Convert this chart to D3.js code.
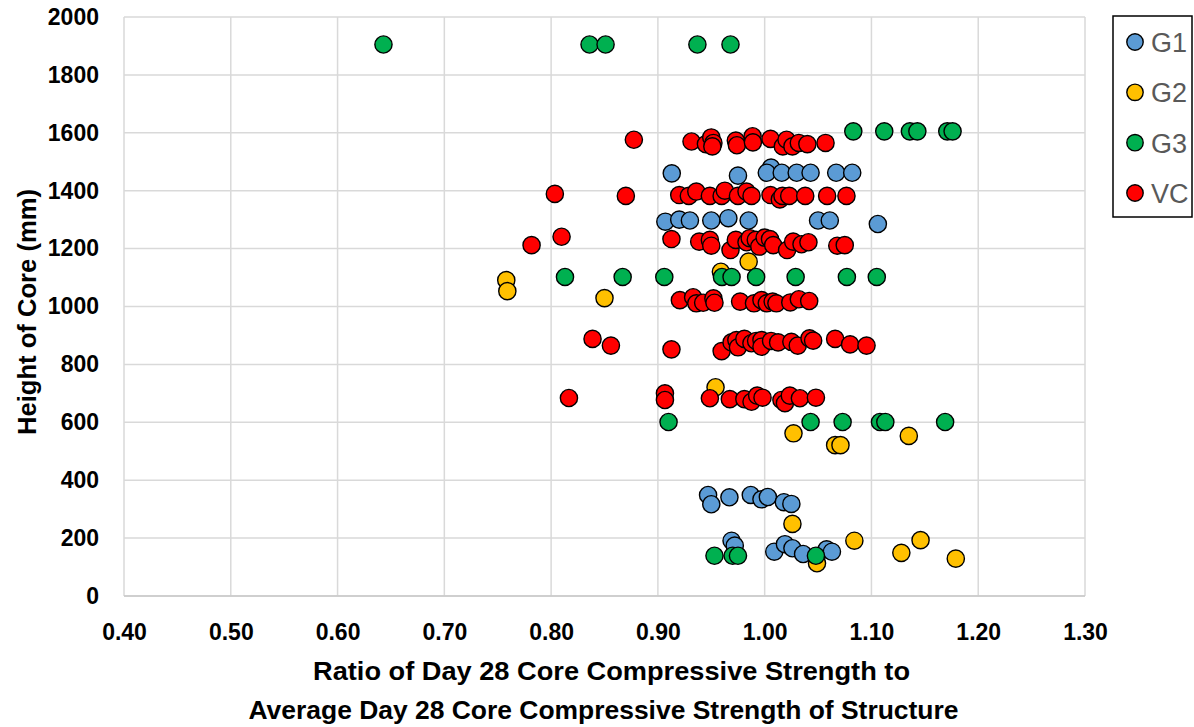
<!DOCTYPE html>
<html>
<head>
<meta charset="utf-8">
<script src="https://cdn.jsdelivr.net/npm/d3@7"></script>
<style>
  html, body { margin: 0; padding: 0; background: #fff; }
  svg { display: block; font-family: "Liberation Sans", Arial, sans-serif; }
</style>
</head>
<body>
<svg id="chart" width="1194" height="727"></svg>
<script>
// Core strength ratio vs. core height, by group: [ratio, height (mm)]
const G1 = [
  [0.913,1460],[0.975,1452],[1.006,1480],[1.002,1462],[1.016,1462],[1.030,1462],[1.043,1462],[1.067,1462],[1.082,1462],
  [0.907,1293],[0.920,1300],[0.930,1297],[0.950,1297],[0.966,1305],[0.985,1297],[1.050,1297],[1.061,1297],[1.106,1285],
  [0.947,349],[0.950,317],[0.967,341],[0.987,349],[0.997,334],[1.003,342],[1.018,324],[1.025,318],
  [0.969,191],[0.972,174],[1.009,153],[1.019,179],[1.026,165],[1.036,145],[1.058,161],[1.063,153]
];
const G2 = [
  [0.758,1091],[0.759,1053],[0.850,1029],[0.985,1155],[0.959,1120],[0.954,721],[1.027,562],
  [1.066,521],[1.071,521],[1.135,553],[1.026,249],[1.084,191],[1.128,149],[1.146,193],[1.179,129],[1.049,113]
];
const G3 = [
  [0.643,1905],[0.836,1905],[0.851,1905],[0.937,1905],[0.968,1905],
  [1.083,1605],[1.112,1605],[1.136,1605],[1.143,1605],[1.171,1605],[1.176,1605],
  [0.813,1102],[0.867,1102],[0.906,1102],[0.960,1102],[0.969,1102],[0.992,1102],[1.029,1102],[1.077,1102],[1.105,1102],
  [0.910,601],[1.043,601],[1.073,601],[1.108,601],[1.113,601],[1.169,601],
  [0.953,139],[0.970,139],[0.975,139],[1.048,139]
];
const VC = [
  // ~1570 mm
  [0.8775,1576],[0.9315,1570],[0.945,1561],[0.950,1584],[0.952,1565],[0.951,1553],[0.973,1573],[0.974,1557],
  [0.9887,1588],[0.989,1567],[1.0055,1579],[1.017,1553],[1.0205,1576],[1.026,1553],[1.032,1565],[1.040,1561],[1.057,1565],
  // ~1380 mm
  [0.8035,1389],[0.870,1382],[0.920,1385],[0.929,1382],[0.936,1397],[0.9487,1382],[0.9597,1382],[0.9627,1400],
  [0.975,1382],[0.983,1397],[0.9877,1382],[1.0055,1385],[1.0142,1370],[1.0167,1382],[1.023,1382],[1.038,1382],
  [1.0585,1382],[1.0766,1382],
  // ~1220 mm
  [0.7817,1212],[0.8098,1241],[0.9127,1233],[0.9387,1224],[0.9487,1230],[0.950,1210],[0.968,1195],[0.973,1230],
  [0.983,1222],[0.986,1236],[0.9917,1230],[0.995,1207],[1.000,1238],[1.005,1233],[1.008,1212],[1.021,1195],
  [1.0267,1224],[1.0345,1215],[1.041,1222],[1.068,1210],[1.075,1212],
  // ~1020 mm
  [0.9206,1022],[0.933,1032],[0.936,1011],[0.9424,1013],[0.952,1028],[0.953,1013],[0.977,1017],[0.990,1011],
  [0.997,1022],[1.002,1011],[1.0075,1017],[1.011,1011],[1.024,1014],[1.032,1025],[1.0417,1019],
  // ~870 mm
  [0.8388,888],[0.856,865],[0.9127,852],[0.9597,846],[0.969,876],[0.9735,884],[0.975,859],[0.981,888],
  [0.9876,873],[0.992,881],[0.997,884],[0.997,861],[1.006,881],[1.0126,876],[1.025,878],[1.031,865],
  [1.042,890],[1.0454,882],[1.066,888],[1.080,869],[1.0954,865],
  // ~680 mm
  [0.8167,684],[0.9066,700],[0.9066,677],[0.9487,683],[0.9674,680],[0.981,680],[0.9877,671],[0.993,692],
  [0.998,685],[1.0157,677],[1.019,666],[1.0236,692],[1.033,683],[1.048,685]
];

const seriesNames = ["G1", "G2", "G3", "VC"];
const seriesData = [G1, G2, G3, VC];
const seriesColors = ["#5B9BD5", "#FFC000", "#00B050", "#FF0000"];

const xTicks = [0.4, 0.5, 0.6, 0.7, 0.8, 0.9, 1.0, 1.1, 1.2, 1.3];
const yTicks = [0, 200, 400, 600, 800, 1000, 1200, 1400, 1600, 1800, 2000];

const xTitleLines = [
  "Ratio of Day 28 Core Compressive Strength to",
  "Average Day 28 Core Compressive Strength of Structure"
];
const yTitle = "Height of Core (mm)";

const svg = d3.select("#chart");
const plot = { left: 124, right: 1085, top: 17, bottom: 596 };

const x = d3.scaleLinear().domain([0.4, 1.3]).range([plot.left, plot.right]);
const y = d3.scaleLinear().domain([0, 2000]).range([plot.bottom, plot.top]);

// gridlines
const grid = svg.append("g");
grid.selectAll("line.vx").data(xTicks).join("line")
  .attr("x1", d => x(d)).attr("x2", d => x(d))
  .attr("y1", plot.top).attr("y2", plot.bottom)
  .attr("stroke", "#d9d9d9").attr("stroke-width", 1.5);
grid.selectAll("line.hy").data(yTicks).join("line")
  .attr("x1", plot.left).attr("x2", plot.right)
  .attr("y1", d => y(d)).attr("y2", d => y(d))
  .attr("stroke", "#d9d9d9").attr("stroke-width", 1.5);
// bottom axis line
svg.append("line")
  .attr("x1", plot.left).attr("x2", plot.right)
  .attr("y1", plot.bottom).attr("y2", plot.bottom)
  .attr("stroke", "#c8c8c8").attr("stroke-width", 1.5);

// axes (labels only, via d3 axis generators)
const xAxis = svg.append("g")
  .attr("transform", `translate(0,${plot.bottom})`)
  .call(d3.axisBottom(x).tickValues(xTicks).tickFormat(d3.format(".2f")).tickSize(0).tickPadding(28));
xAxis.select(".domain").remove();
xAxis.selectAll("text")
  .attr("font-family", "Liberation Sans, Arial, sans-serif")
  .attr("font-size", 23).attr("font-weight", "bold").attr("fill", "#000");

const yAxis = svg.append("g")
  .attr("transform", `translate(${plot.left},0)`)
  .call(d3.axisLeft(y).tickValues(yTicks).tickFormat(d3.format("d")).tickSize(0).tickPadding(25));
yAxis.select(".domain").remove();
yAxis.selectAll("text")
  .attr("font-family", "Liberation Sans, Arial, sans-serif")
  .attr("font-size", 23).attr("font-weight", "bold").attr("fill", "#000");

// points
const r = 8.6;
seriesData.forEach((data, i) => {
  svg.append("g").selectAll("circle").data(data).join("circle")
    .attr("cx", d => x(d[0]))
    .attr("cy", d => y(d[1]))
    .attr("r", r)
    .attr("fill", seriesColors[i])
    .attr("stroke", "#000")
    .attr("stroke-width", 1.4);
});

// axis titles
svg.append("text")
  .attr("transform", "translate(36,312) rotate(-90)")
  .attr("text-anchor", "middle")
  .attr("font-size", 25).attr("font-weight", "bold")
  .attr("textLength", 246).attr("lengthAdjust", "spacingAndGlyphs")
  .text(yTitle);

const titleWidths = [597, 710];
const titleBaselines = [680, 719];
xTitleLines.forEach((t, i) => {
  svg.append("text")
    .attr("x", (plot.left + plot.right) / 2 + (i === 0 ? 7 : -1))
    .attr("y", titleBaselines[i])
    .attr("text-anchor", "middle")
    .attr("font-size", 25).attr("font-weight", "bold")
    .attr("textLength", titleWidths[i]).attr("lengthAdjust", "spacingAndGlyphs")
    .text(t);
});

// legend
const legend = svg.append("g");
legend.append("rect")
  .attr("x", 1113).attr("y", 16).attr("width", 79).attr("height", 201)
  .attr("fill", "#fff").attr("stroke", "#000").attr("stroke-width", 1.5);
const ly = d3.scalePoint().domain(seriesNames).range([42, 193]);
seriesNames.forEach((name, i) => {
  legend.append("circle")
    .attr("cx", 1135).attr("cy", ly(name)).attr("r", 8.2)
    .attr("fill", seriesColors[i]).attr("stroke", "#000").attr("stroke-width", 1.4);
  legend.append("text")
    .attr("x", 1151).attr("y", ly(name) + 10)
    .attr("font-size", 27).attr("fill", "#595959")
    .text(name);
});
</script>
</body>
</html>
